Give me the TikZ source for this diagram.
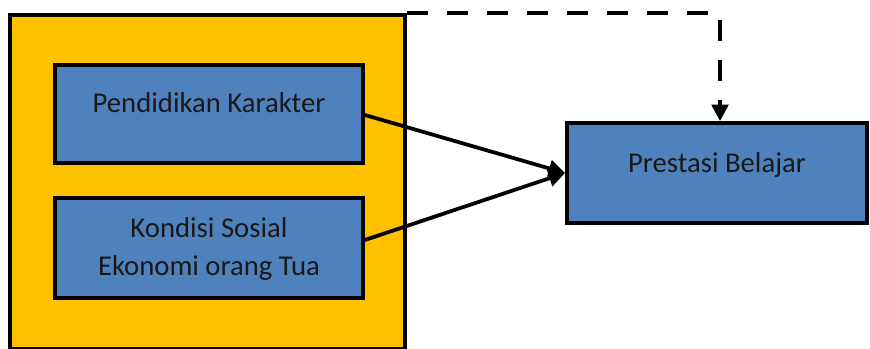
\documentclass[tikz,border=0pt]{standalone}
\usepackage{fontspec}
\setmainfont{Carlito}
\usetikzlibrary{arrows.meta}
\definecolor{kuning}{HTML}{FFC000}
\definecolor{biru}{HTML}{4F81BD}

\begin{document}
\begin{tikzpicture}[x=0.03cm, y=-0.03cm,
	kotak/.style={draw, line width=3.2pt, fill=biru, inner sep=0pt},
	label/.style={font=\fontsize{24.5}{32}\selectfont, text=black!90, align=center},
	panah/.style={line width=3.2pt, -{Triangle[length=14pt, width=14pt]}}]
	\useasboundingbox (0,0) rectangle (870,349);
	\node [draw, line width=3.2pt, fill=kuning, minimum width=395*0.03cm, minimum height=334*0.03cm, inner sep=0pt] (luar) at (207.5,182) {};
	\node [kotak, minimum width=308*0.03cm, minimum height=98*0.03cm] (pk) at (209,114) {};
	\node [kotak, minimum width=308*0.03cm, minimum height=100*0.03cm] (ks) at (209,248) {};
	\node [kotak, minimum width=300*0.03cm, minimum height=100*0.03cm] (pb) at (717,173) {};
	\node [label] (tpk) at ([yshift=11*0.03cm]pk.center) {Pendidikan Karakter};
	\node [label] (tks) at ([yshift=-1*0.03cm]ks.center) {Kondisi Sosial\\Ekonomi orang Tua};
	\node [label] (tpb) at ([yshift=8*0.03cm]pb.center) {Prestasi Belajar};
	\draw [panah] ([yshift=-1*0.03cm]pk.east) -- (pb.west);
	\draw [panah] ([yshift=8*0.03cm]ks.east) -- (pb.west);
	\draw [panah, dash pattern=on 21*0.03cm off 19*0.03cm] (luar.north east) -| ([xshift=3*0.03cm]pb.north);
\end{tikzpicture}
\end{document}
